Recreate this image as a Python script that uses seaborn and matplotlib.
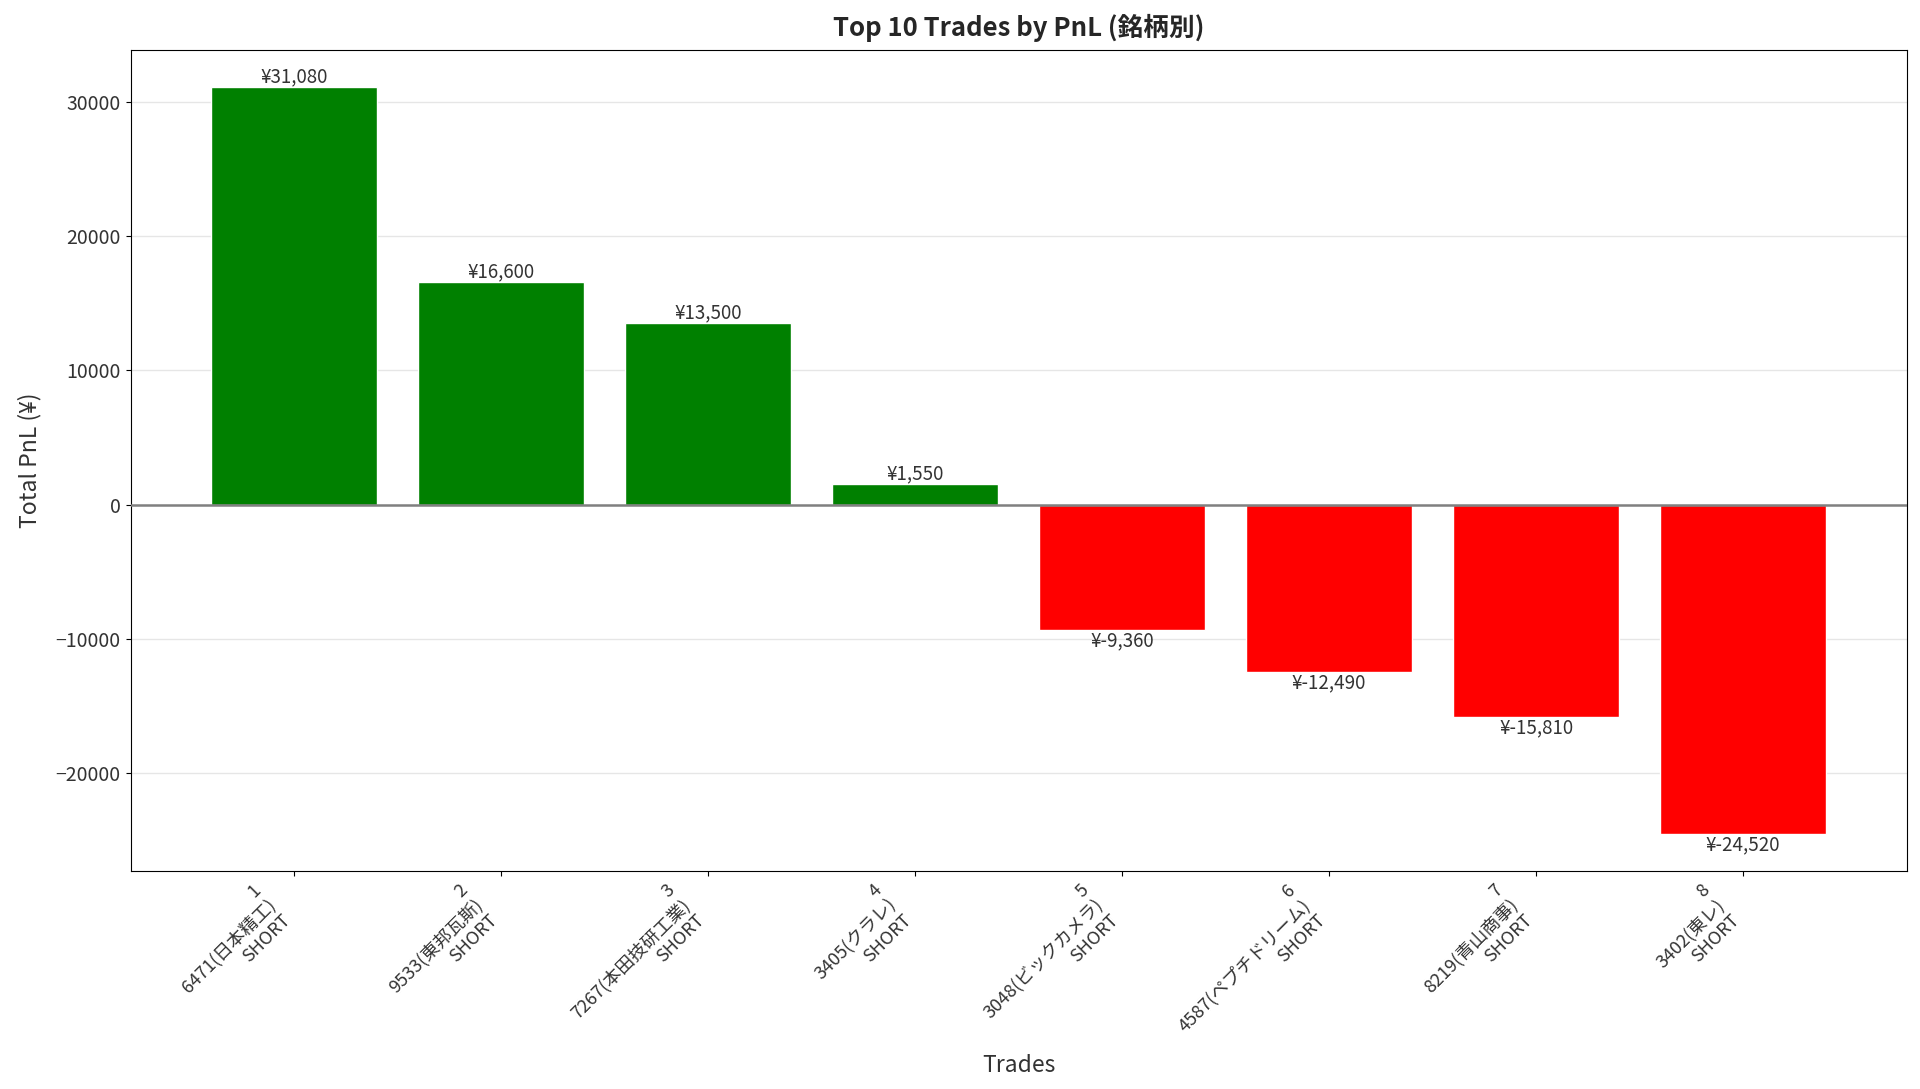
import matplotlib
matplotlib.use("Agg")
import matplotlib.pyplot as plt
import seaborn as sns
import pandas as pd

ranks = ["1", "2", "3", "4", "5", "6", "7", "8"]
tickers = ["6471(日本精工)", "9533(東邦瓦斯)", "7267(本田技研工業)", "3405(クラレ)",
           "3048(ビックカメラ)", "4587(ペプチドリーム)", "8219(青山商事)", "3402(東レ)"]
sides = ["SHORT"] * 8
pnl = [31080, 16600, 13500, 1550, -9360, -12490, -15810, -24520]

sns.set_style("ticks")
plt.rcParams['font.family'] = ['Noto Sans CJK JP', 'DejaVu Sans']
plt.rcParams['axes.unicode_minus'] = True

labels = [f"{r}\n{t}\n{s}" for r, t, s in zip(ranks, tickers, sides)]
df = pd.DataFrame({"label": labels, "pnl": pnl,
                   "sign": ["pos" if v >= 0 else "neg" for v in pnl]})

fig, ax = plt.subplots(figsize=(19.2, 10.89), dpi=100)
sns.barplot(data=df, x="label", y="pnl", hue="sign",
            palette={"pos": "green", "neg": "red"}, width=0.8,
            saturation=1, legend=False, ax=ax, dodge=False)

for i, v in enumerate(pnl):
    ax.text(i, v, f"¥{v:,}", ha="center", va="bottom" if v >= 0 else "top",
            fontsize=13.5, color="#333333")

ax.axhline(0, color="gray", linewidth=1.8, zorder=3)
ax.set_xlim(-0.79, 7.79)
ax.set_ylim(-27300, 33860)
ax.yaxis.grid(True, color="#e6e6e6", linewidth=1)
ax.set_axisbelow(True)
for s in ax.spines.values():
    s.set_visible(True)
    s.set_color("black")
ax.tick_params(axis="y", labelsize=14, colors="black", labelcolor="#333333")
ax.tick_params(axis="x", labelsize=13, colors="black", labelcolor="#333333")
plt.setp(ax.get_xticklabels(), rotation=45, ha="right", rotation_mode="default")
ax.set_xlabel("Trades", fontsize=16.5, color="#333333", labelpad=3)
ax.set_ylabel("Total PnL (¥)", fontsize=16.5, color="#333333", labelpad=10)
ax.set_title("Top 10 Trades by PnL (銘柄別)", fontsize=18.5, fontweight="bold", pad=10)
plt.subplots_adjust(left=0.068, right=0.993, top=0.954, bottom=0.2)
fig.savefig("out.png", dpi=100)
